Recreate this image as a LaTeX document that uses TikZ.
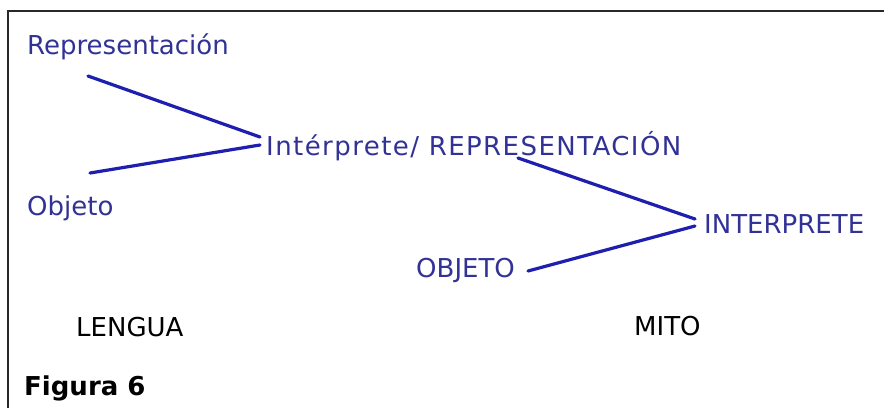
\documentclass[tikz,border=0pt]{standalone}
\usepackage{fontspec}
\setmainfont{DejaVu Sans}
\definecolor{txtblue}{RGB}{50,50,150}
\definecolor{lineblue}{RGB}{30,30,175}
\definecolor{framegray}{RGB}{40,40,40}
\begin{document}
\begin{tikzpicture}[x=1pt,y=-1pt,
  lbl/.style={anchor=base west,inner sep=0pt,text=txtblue,font=\fontsize{26}{30}\selectfont},
  blk/.style={anchor=base west,inner sep=0pt,text=black,font=\fontsize{26}{30}\selectfont},
  conn/.style={draw=lineblue,line width=3.2pt,line cap=round}]
\useasboundingbox[fill=white] (0,0) rectangle (884,408);
\draw[framegray,line width=2pt] (8,408) -- (8,11) -- (884,11);
\node[lbl] (rep) at (27,54) {Representación};
\node[lbl] (obj) at (27,215) {Objeto};
\node[lbl,font=\fontsize{26}{30}\selectfont\addfontfeature{LetterSpace=5.5}] (int) at (266,155) {Intérprete/ REPRESENTACIÓN};
\node[lbl] (INT) at (704,233) {INTERPRETE};
\node[lbl] (OBJ) at (416,277) {OBJETO};
\node[blk] (len) at (76,336) {LENGUA};
\node[blk] (mito) at (634,335) {MITO};
\node[blk,font=\fontsize{26}{30}\selectfont\bfseries] (fig) at (24,395) {Figura 6};
\coordinate (a1) at (88,76);
\coordinate (a2) at (260,137);
\coordinate (b1) at (90,173);
\coordinate (b2) at (260,145);
\coordinate (c1) at (518,158);
\coordinate (c2) at (695,219);
\coordinate (d1) at (528,271);
\coordinate (d2) at (695,226);
\draw[conn] (a1) -- (a2);
\draw[conn] (b1) -- (b2);
\draw[conn] (c1) -- (c2);
\draw[conn] (d1) -- (d2);
\end{tikzpicture}
\end{document}
